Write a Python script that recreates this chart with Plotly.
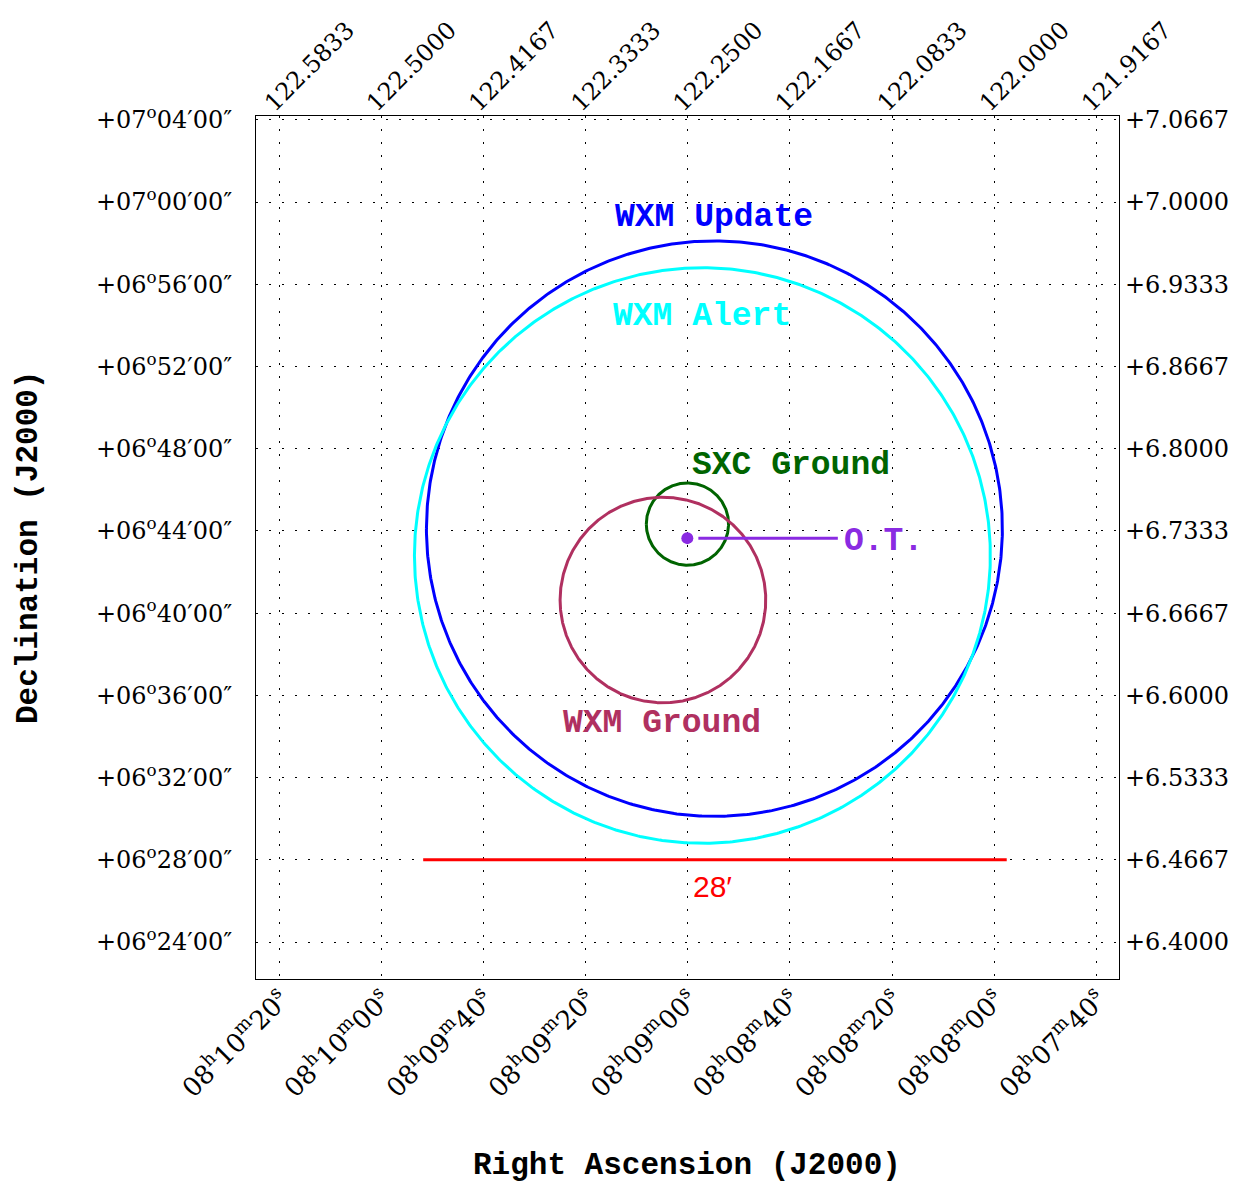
import numpy as np
import plotly.graph_objects as go

# ---- data ----
ra_ticks = [122.58333, 122.50000, 122.41667, 122.33333, 122.25000, 122.16667, 122.08333, 122.00000, 121.91667]
ra_hms = ["08<sup>h</sup>10<sup>m</sup>20<sup>s</sup>", "08<sup>h</sup>10<sup>m</sup>00<sup>s</sup>",
          "08<sup>h</sup>09<sup>m</sup>40<sup>s</sup>", "08<sup>h</sup>09<sup>m</sup>20<sup>s</sup>",
          "08<sup>h</sup>09<sup>m</sup>00<sup>s</sup>", "08<sup>h</sup>08<sup>m</sup>40<sup>s</sup>",
          "08<sup>h</sup>08<sup>m</sup>20<sup>s</sup>", "08<sup>h</sup>08<sup>m</sup>00<sup>s</sup>",
          "08<sup>h</sup>07<sup>m</sup>40<sup>s</sup>"]
ra_deg_labels = ["122.5833", "122.5000", "122.4167", "122.3333", "122.2500", "122.1667", "122.0833", "122.0000", "121.9167"]

dec_ticks = [7.06667, 7.00000, 6.93333, 6.86667, 6.80000, 6.73333, 6.66667, 6.60000, 6.53333, 6.46667, 6.40000]
dec_dms = ["+07<sup>o</sup>04′00″", "+07<sup>o</sup>00′00″", "+06<sup>o</sup>56′00″", "+06<sup>o</sup>52′00″",
           "+06<sup>o</sup>48′00″", "+06<sup>o</sup>44′00″", "+06<sup>o</sup>40′00″", "+06<sup>o</sup>36′00″",
           "+06<sup>o</sup>32′00″", "+06<sup>o</sup>28′00″", "+06<sup>o</sup>24′00″"]
dec_deg_labels = ["+7.0667", "+7.0000", "+6.9333", "+6.8667", "+6.8000", "+6.7333", "+6.6667", "+6.6000",
                  "+6.5333", "+6.4667", "+6.4000"]

# error circles: name, RA center (deg), Dec center (deg), radius (arcmin), colour
circle_names = ["WXM Update", "WXM Alert", "SXC Ground", "WXM Ground"]
circle_ra = [122.2283, 122.2381, 122.2503, 122.2703]
circle_dec = [6.7352, 6.7134, 6.7389, 6.6773]
circle_r_arcmin = [14.0, 14.0, 2.0, 5.0]
circle_colors = ["#0000ff", "#00ffff", "#006400", "#b03060"]

# optical transient
ot_ra = 122.2504
ot_dec = 6.7275
ot_line_ra = [122.2414, 122.1276]

# scale bar (28 arcmin)
bar_ra = [122.4659, 121.9898]
bar_dec = 6.46667
bar_label = "28′"

x_range = [122.6023, 121.8982]
y_range = [6.3700, 7.0698]

fig = go.Figure()

t = np.linspace(0, 2 * np.pi, 721)
for name, ra0, de0, r, c in zip(circle_names, circle_ra, circle_dec, circle_r_arcmin, circle_colors):
    rd = r / 60.0
    xs = ra0 + rd * np.cos(t) / np.cos(np.radians(de0))
    ys = de0 + rd * np.sin(t)
    fig.add_trace(go.Scatter(x=xs, y=ys, mode="lines", line=dict(color=c, width=3),
                             hoverinfo="skip", showlegend=False, name=name))

fig.add_trace(go.Scatter(x=ot_line_ra, y=[ot_dec, ot_dec], mode="lines",
                         line=dict(color="#8a2be2", width=3), showlegend=False))
fig.add_trace(go.Scatter(x=[ot_ra], y=[ot_dec], mode="markers",
                         marker=dict(color="#8a2be2", size=12), showlegend=False))
fig.add_trace(go.Scatter(x=bar_ra, y=[bar_dec, bar_dec], mode="lines",
                         line=dict(color="#ff0000", width=3), showlegend=False))
# invisible trace for secondary axes
fig.add_trace(go.Scatter(x=[x_range[0]], y=[y_range[0]], xaxis="x2", yaxis="y2",
                         mode="markers", marker=dict(opacity=0), showlegend=False, hoverinfo="skip"))

label_font = "Liberation Mono"
lab_size = 33
annos = [
    dict(x=122.2287, y=6.9875, text="<b>WXM Update</b>", color="#0000ff", xanchor="center"),
    dict(x=122.2381, y=6.9070, text="<b>WXM Alert</b>", color="#00ffff", xanchor="center"),
    dict(x=122.1655, y=6.7865, text="<b>SXC Ground</b>", color="#006400", xanchor="center"),
    dict(x=122.1244, y=6.7245, text="<b>O.T.</b>", color="#8a2be2", xanchor="left"),
    dict(x=122.2707, y=6.5775, text="<b>WXM Ground</b>", color="#b03060", xanchor="center"),
]
for a in annos:
    fig.add_annotation(x=a["x"], y=a["y"], xref="x", yref="y", text=a["text"], showarrow=False,
                       xanchor=a["xanchor"], yanchor="middle",
                       font=dict(family=label_font, size=lab_size, color=a["color"]))
fig.add_annotation(x=122.2295, y=6.4450, xref="x", yref="y", text=bar_label, showarrow=False,
                   xanchor="center", yanchor="middle",
                   font=dict(family="Liberation Sans", size=30, color="#ff0000"))

# axis titles
fig.add_annotation(x=(687 - 256) / 863, y=(979 - 1165) / 863, xref="paper", yref="paper",
                   text="<b>Right Ascension (J2000)</b>", showarrow=False, xanchor="center", yanchor="middle",
                   font=dict(family=label_font, size=31, color="black"))
fig.add_annotation(x=(28 - 256) / 863, y=(979 - 548) / 863, xref="paper", yref="paper",
                   text="<b>Declination (J2000)</b>", showarrow=False, xanchor="center", yanchor="middle",
                   textangle=-90, font=dict(family=label_font, size=31, color="black"))

tick_font = dict(family="DejaVu Serif", size=24, color="black")
tick_font_ra = dict(family="DejaVu Serif", size=26, color="black")
grid_common = dict(showgrid=True, gridcolor="black", gridwidth=1, griddash="2px,11px",
                   zeroline=False, showline=True, linecolor="black", linewidth=1, ticks="",
                   automargin=False)

# the page body adds an 8px offset, so the figure is 8px smaller on each axis
fig.update_layout(
    width=1240, height=1181,
    margin=dict(l=248, r=129, t=108, b=210, autoexpand=False),
    paper_bgcolor="white", plot_bgcolor="white",
    xaxis=dict(range=x_range, tickmode="array", tickvals=ra_ticks, ticktext=ra_hms, tickangle=-45,
               tickfont=tick_font_ra, mirror=True, ticklabelstandoff=-6, ticklabelshift=-2, **grid_common),
    yaxis=dict(range=y_range, tickmode="array", tickvals=dec_ticks, ticktext=dec_dms,
               tickfont=tick_font, mirror=True, ticklabelstandoff=18, **grid_common),
    xaxis2=dict(range=x_range, overlaying="x", side="top", anchor="y", tickmode="array",
                tickvals=ra_ticks, ticktext=ra_deg_labels, tickangle=-45, tickfont=tick_font,
                ticklabelshift=13, ticklabelstandoff=-6, automargin=False,
                showgrid=False, zeroline=False, showline=False, ticks=""),
    yaxis2=dict(range=y_range, overlaying="y", side="right", anchor="x", tickmode="array",
                tickvals=dec_ticks, ticktext=dec_deg_labels, tickfont=tick_font, ticklabelstandoff=5,
                automargin=False,
                showgrid=False, zeroline=False, showline=False, ticks=""),
)

fig.write_html("out.html")
